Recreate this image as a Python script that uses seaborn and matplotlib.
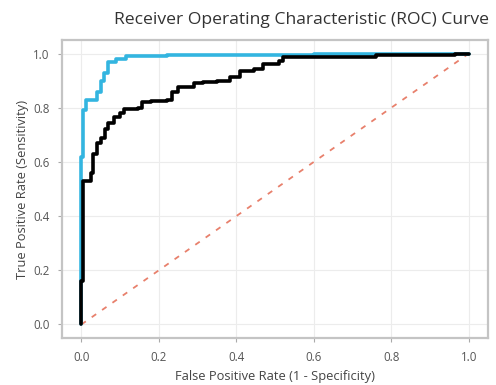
import seaborn as sns
import matplotlib.pyplot as plt

# ROC corner points
fpr_a = [0.0, 0.0, 0.003, 0.003, 0.013, 0.013, 0.04, 0.04, 0.05, 0.05, 0.058, 0.058,
         0.07, 0.07, 0.09, 0.09, 0.115, 0.115, 0.22, 0.22, 0.6, 0.6, 1.0]
tpr_a = [0.0, 0.62, 0.62, 0.79, 0.79, 0.83, 0.83, 0.86, 0.86, 0.90, 0.90, 0.93,
         0.93, 0.97, 0.97, 0.98, 0.98, 0.99, 0.99, 0.995, 0.995, 1.0, 1.0]

fpr_b = [0.0, 0.0, 0.005, 0.005, 0.025, 0.025, 0.03, 0.03, 0.04, 0.04, 0.05, 0.05,
         0.06, 0.06, 0.07, 0.07, 0.085, 0.085, 0.1, 0.1, 0.11, 0.11, 0.145, 0.145,
         0.157, 0.157, 0.18, 0.18, 0.22, 0.22, 0.235, 0.235, 0.25, 0.25, 0.29, 0.29,
         0.315, 0.315, 0.35, 0.35, 0.385, 0.385, 0.41, 0.41, 0.445, 0.445, 0.47, 0.47,
         0.51, 0.51, 0.52, 0.52, 0.76, 0.76, 0.965, 0.965, 1.0]
tpr_b = [0.0, 0.16, 0.16, 0.53, 0.53, 0.56, 0.56, 0.63, 0.63, 0.67, 0.67, 0.69,
         0.69, 0.72, 0.72, 0.745, 0.745, 0.765, 0.765, 0.78, 0.78, 0.795, 0.795, 0.80,
         0.80, 0.82, 0.82, 0.825, 0.825, 0.83, 0.83, 0.86, 0.86, 0.875, 0.875, 0.89,
         0.89, 0.895, 0.895, 0.90, 0.90, 0.915, 0.915, 0.937, 0.937, 0.944, 0.944, 0.963,
         0.963, 0.974, 0.974, 0.989, 0.989, 0.993, 0.993, 1.0, 1.0]

diag = [0.0, 1.0]

sns.set_theme(style="whitegrid")
plt.rcParams['font.family'] = ['Open Sans', 'DejaVu Sans']

fig, ax = plt.subplots(figsize=(4.96, 3.85), dpi=100)
fig.subplots_adjust(left=0.125, right=0.984, bottom=0.122, top=0.896)

sns.lineplot(x=diag, y=diag, ax=ax, color="#e8806c", linestyle=(0, (3, 4)),
             linewidth=1.3, sort=False, estimator=None)
sns.lineplot(x=fpr_a, y=tpr_a, ax=ax, color="#33b5e0", linewidth=2.6,
             sort=False, estimator=None)
sns.lineplot(x=fpr_b, y=tpr_b, ax=ax, color="black", linewidth=2.6,
             sort=False, estimator=None)

ax.set_xlim(-0.05, 1.05)
ax.set_ylim(-0.05, 1.05)
ax.set_xticks([0, 0.2, 0.4, 0.6, 0.8, 1.0])
ax.set_yticks([0, 0.2, 0.4, 0.6, 0.8, 1.0])
ax.grid(color="#ececec", linewidth=0.8)
for s in ax.spines.values():
    s.set_visible(True)
    s.set_color("#c4c4c4")
    s.set_linewidth(1.6)
ax.tick_params(labelsize=8.3, colors="#555555", length=3, width=0.8,
               color="#aaaaaa", left=True, bottom=True, pad=6)
ax.set_xlabel("False Positive Rate (1 - Specificity)", fontsize=9.3,
              color="#444444", labelpad=5)
ax.set_ylabel("True Positive Rate (Sensitivity)", fontsize=9.3,
              color="#444444", labelpad=3)

fig.text(0.607, 0.948, "Receiver Operating Characteristic (ROC) Curve",
         fontsize=12.6, color="#333333", ha="center", va="center")

plt.savefig("out.png", dpi=100)
